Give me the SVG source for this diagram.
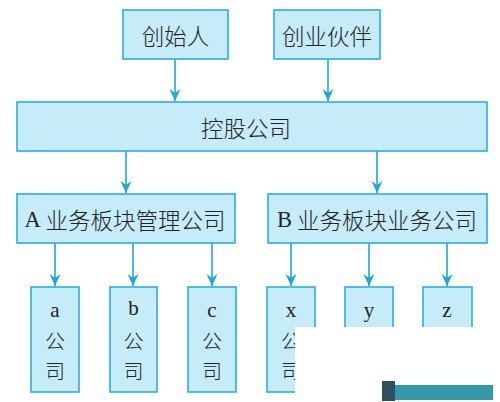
<svg xmlns="http://www.w3.org/2000/svg" width="500" height="402" viewBox="0 0 500 402">
<style>
.box{fill:#c6ecfa;stroke:#2aaee0;stroke-width:1.6}
.t{font-family:"Noto Sans CJK SC","Liberation Serif",serif;font-weight:300;font-size:22.5px;fill:#222;text-anchor:middle;dominant-baseline:central}
.s{font-family:"Noto Sans CJK SC","Liberation Serif",serif;font-weight:300;font-size:20px;fill:#222;text-anchor:middle;dominant-baseline:central}
.l{font-family:"Liberation Serif","Noto Sans CJK SC",serif;font-size:21px;fill:#222;text-anchor:middle;dominant-baseline:central}
.c{stroke:#1ea6dd;stroke-width:1.6;fill:none;marker-end:url(#ah)}
</style>
<defs>
<marker id="ah" viewBox="0 0 12 12" refX="12" refY="6" markerWidth="12" markerHeight="12" markerUnits="userSpaceOnUse" orient="auto">
<path d="M0,0.5 L12,6 L0,11.5 L4,6 Z" fill="#1ea6dd"/>
</marker>
</defs>
<rect width="500" height="402" fill="#fff"/>
<g id="connectors">
<line class="c" x1="175" y1="59" x2="175" y2="101"/>
<line class="c" x1="328" y1="59" x2="328" y2="101"/>
<line class="c" x1="126" y1="151" x2="126" y2="193"/>
<line class="c" x1="377" y1="151" x2="377" y2="193"/>
<line class="c" x1="55" y1="243" x2="55" y2="286"/>
<line class="c" x1="133" y1="243" x2="133" y2="286"/>
<line class="c" x1="212" y1="243" x2="212" y2="286"/>
<line class="c" x1="291" y1="243" x2="291" y2="286"/>
<line class="c" x1="369" y1="243" x2="369" y2="286"/>
<line class="c" x1="447" y1="243" x2="447" y2="286"/>
</g>
<g id="founder"><rect class="box" x="123" y="10" width="105" height="49"/><text class="t" x="175.5" y="35">创始人</text></g>
<g id="partner"><rect class="box" x="274" y="10" width="106" height="49"/><text class="t" x="327" y="35">创业伙伴</text></g>
<g id="holding"><rect class="box" x="17" y="102" width="470" height="49"/><text class="t" x="246" y="127">控股公司</text></g>
<g id="A"><rect class="box" x="17" y="194" width="218" height="49"/><text class="t" x="125" y="219"><tspan font-family="Liberation Serif" font-weight="400">A</tspan> 业务板块管理公司</text></g>
<g id="B"><rect class="box" x="268" y="194" width="219" height="49"/><text class="t" x="377" y="219"><tspan font-family="Liberation Serif" font-weight="400">B</tspan> 业务板块业务公司</text></g>
<g id="a"><rect class="box" x="31" y="287" width="48" height="105"/><text class="l" x="55" y="310">a</text><text class="s" x="55" y="340">公</text><text class="s" x="55" y="370">司</text></g>
<g id="b"><rect class="box" x="110" y="287" width="47" height="105"/><text class="l" x="133.5" y="308">b</text><text class="s" x="133.5" y="340">公</text><text class="s" x="133.5" y="370">司</text></g>
<g id="c"><rect class="box" x="188" y="287" width="48" height="105"/><text class="l" x="212" y="310">c</text><text class="s" x="212" y="340">公</text><text class="s" x="212" y="370">司</text></g>
<g id="x"><rect class="box" x="267" y="287" width="48" height="105"/><text class="l" x="291" y="310">x</text><text class="s" x="291" y="340">公</text><text class="s" x="291" y="370">司</text></g>
<g id="y"><rect class="box" x="345" y="287" width="48" height="105"/><text class="l" x="369" y="310">y</text></g>
<g id="z"><rect class="box" x="423" y="287" width="49" height="105"/><text class="l" x="447" y="310">z</text></g>
<rect x="295" y="327" width="205" height="75" fill="#fff"/>
<rect x="382" y="381" width="13" height="20" fill="#2f4f60"/>
<rect x="395" y="385" width="98" height="15" fill="#3399a8"/>
</svg>
